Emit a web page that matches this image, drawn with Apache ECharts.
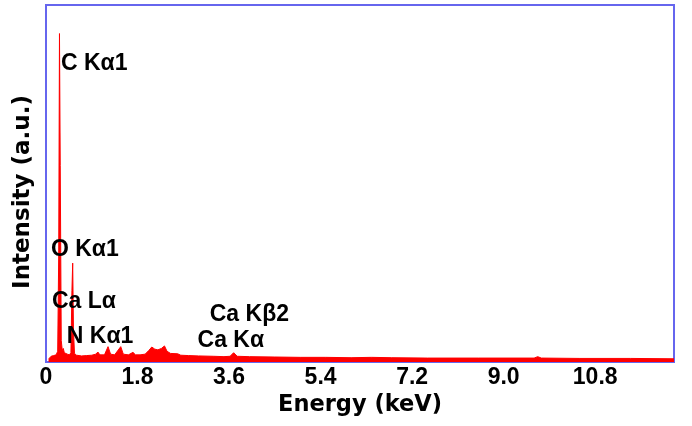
<!DOCTYPE html>
<html>
<head>
<meta charset="utf-8">
<script src="https://cdn.jsdelivr.net/npm/echarts@6/dist/echarts.min.js"></script>
<style>html,body{margin:0;padding:0;background:#fff}#c{width:692px;height:426px}</style>
</head>
<body>
<div id="c"></div>
<script>
// Spectrum samples (energy in keV, intensity in arbitrary units)
var energies = [0.05,0.10,0.15,0.20,0.23,0.25,0.265,0.28,0.30,0.32,0.34,0.36,0.39,0.42,0.46,0.49,0.51,0.525,0.54,0.56,0.60,0.70,0.80,0.90,0.98,1.02,1.06,1.15,1.22,1.27,1.35,1.47,1.52,1.62,1.71,1.76,1.85,1.95,2.02,2.08,2.14,2.20,2.27,2.33,2.38,2.45,2.59,2.65,2.80,3.00,3.30,3.50,3.62,3.69,3.76,4.00,4.50,5.00,5.50,6.00,6.40,6.80,7.50,8.50,9.60,9.67,9.74,10.50,11.50,12.35];
var intensities = [0.8,1.6,1.8,2.0,3.0,30,92,55,6,3.2,3.8,2.6,2.8,2.2,2.0,2.6,20,27.7,9,2.4,1.9,1.7,1.8,1.9,2.2,2.8,2.0,2.0,4.3,2.2,2.0,4.3,2.2,2.0,2.7,2.0,2.0,2.2,3.2,4.2,3.6,3.4,3.8,4.5,3.0,2.4,2.3,1.9,1.8,1.7,1.6,1.5,1.6,2.6,1.6,1.5,1.4,1.3,1.3,1.2,1.3,1.2,1.1,1.1,1.1,1.5,1.1,1.0,1.0,0.9];
// Peak annotations
var peakNames = ['C K\u03b11','O K\u03b11','Ca L\u03b1','N K\u03b11','Ca K\u03b22','Ca K\u03b1'];
var peakLabelX = [0.295,0.098,0.118,0.41,3.22,2.98];
var peakLabelY = [83.5,31.6,16.8,7.0,13.2,5.9];
var xTickInterval = 1.8;
var xMax = 12.35;

var spectrum = energies.map(function(e,i){return [e,intensities[i]];});
var labels = peakNames.map(function(n,i){return {name:n,value:[peakLabelX[i],peakLabelY[i]]};});

var chart = echarts.init(document.getElementById('c'));
chart.setOption({
  animation:false,
  backgroundColor:'#fff',
  grid:{left:46,right:18,top:5,bottom:64,show:true,borderColor:'#6666ee',borderWidth:2,backgroundColor:'transparent'},
  xAxis:{type:'value',min:0,max:xMax,interval:xTickInterval,
    name:'Energy (keV)',nameLocation:'middle',nameGap:31,
    nameTextStyle:{fontFamily:'DejaVu Sans',fontWeight:'bold',fontSize:22.5,color:'#000'},
    axisLine:{show:true,lineStyle:{color:'#6666ee',width:2}},
    axisTick:{show:false},splitLine:{show:false},
    axisLabel:{margin:4,showMaxLabel:false,fontFamily:'Liberation Sans',fontWeight:'bold',fontSize:23,color:'#000',
      formatter:function(v){return v===0?'0':v.toFixed(1);}}
  },
  yAxis:{type:'value',min:0,max:100,axisLine:{show:false},axisTick:{show:false},axisLabel:{show:false},splitLine:{show:false}},
  graphic:[{type:'text',x:23,y:192,rotation:Math.PI/2,
    style:{text:'Intensity (a.u.)',font:'bold 23px "DejaVu Sans"',fill:'#000',textAlign:'center',textVerticalAlign:'middle'}}],
  series:[
    {type:'line',data:spectrum,symbol:'none',lineStyle:{color:'#ff0000',width:1},areaStyle:{color:'#ff0000',opacity:1},z:2},
    {type:'scatter',data:labels,symbolSize:0,z:5,itemStyle:{opacity:1},
      label:{show:true,position:'right',distance:0,formatter:'{b}',fontFamily:'Liberation Sans',fontWeight:'bold',fontSize:23,color:'#000',textBorderWidth:0,opacity:1}}
  ]
});
</script>
</body>
</html>
